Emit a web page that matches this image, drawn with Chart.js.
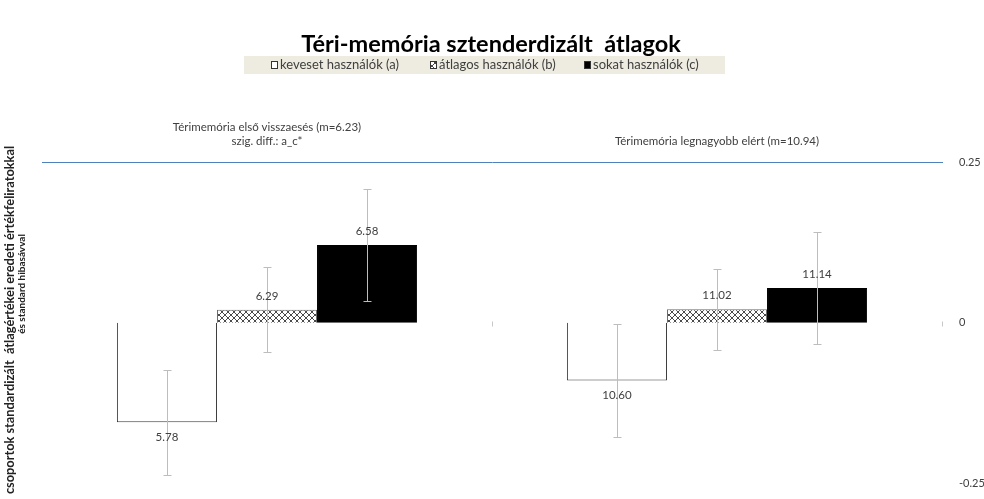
<!DOCTYPE html>
<html>
<head>
<meta charset="utf-8">
<script src="https://cdn.jsdelivr.net/npm/chart.js@4/dist/chart.umd.min.js"></script>
<style>
  html, body { margin: 0; padding: 0; background: #fff; }
  #wrap { width: 984px; height: 499px; }
</style>
</head>
<body>
<div id="wrap"><canvas id="memChart"></canvas></div>
<script>
const categories = [
    ['Térimemória első visszaesés (m=6.23)', 'szig. diff.: a_c*'],
    'Térimemória legnagyobb elért (m=10.94)'
];
const seriesNames = ['keveset használók (a)', 'átlagos használók (b)', 'sokat használók (c)'];

// standardized group means
const valuesA = [-0.155, -0.090];
const valuesB = [0.020, 0.021];
const valuesC = [0.121, 0.054];

// standard errors
const errorsA = [0.082, 0.088];
const errorsB = [0.066, 0.063];
const errorsC = [0.087, 0.087];

// original (raw) means written on the bars
const rawA = ['5.78', '10.60'];
const rawB = ['6.29', '11.02'];
const rawC = ['6.58', '11.14'];

const yTicks = [-0.25, 0, 0.25];

const FONT = 'Lato, "Open Sans", sans-serif';
const TEXT_COL = '#404040';

function crossHatch() {
    const c = document.createElement('canvas');
    c.width = 6;
    c.height = 6;
    const g = c.getContext('2d');
    g.fillStyle = '#fff';
    g.fillRect(0, 0, 6, 6);
    g.strokeStyle = '#4a4a4a';
    g.lineWidth = 1;
    g.beginPath();
    g.moveTo(0, 0); g.lineTo(6, 6);
    g.moveTo(6, 0); g.lineTo(0, 6);
    g.stroke();
    return g.createPattern(c, 'repeat');
}
const hatch = crossHatch();

// error bars + raw mean labels
const errorBars = {
    id: 'errorBars',
    afterDatasetsDraw(chart) {
        const ctx = chart.ctx;
        const x = chart.scales.x;
        const y = chart.scales.y;
        ctx.save();

        // small tick marks on the zero line between categories
        const y0 = Math.round(y.getPixelForValue(0)) + 0.5;
        ctx.strokeStyle = '#c8c8c8';
        ctx.lineWidth = 1;
        ctx.beginPath();
        for (let i = 1; i <= categories.length; i++) {
            const bx = Math.round(x.getPixelForValue(i - 0.5)) + 0.5;
            ctx.moveTo(bx, y0 - 2);
            ctx.lineTo(bx, y0 + 3);
        }
        ctx.stroke();

        chart.data.datasets.forEach((ds, di) => {
            const meta = chart.getDatasetMeta(di);
            meta.data.forEach((bar, i) => {
                const v = ds.data[i];
                const e = ds.errors[i];
                const top = Math.round(y.getPixelForValue(v + e)) + 0.5;
                const bot = Math.round(y.getPixelForValue(v - e)) + 0.5;
                const bx = Math.round(bar.x) + 0.5;
                ctx.strokeStyle = '#bdbdbd';
                ctx.beginPath();
                ctx.moveTo(bx, top); ctx.lineTo(bx, bot);
                ctx.moveTo(bx - 4, top); ctx.lineTo(bx + 4, top);
                ctx.moveTo(bx - 4, bot); ctx.lineTo(bx + 4, bot);
                ctx.stroke();
            });
        });
        ctx.font = '11.5px ' + FONT;
        ctx.fillStyle = TEXT_COL;
        ctx.textAlign = 'center';
        ctx.textBaseline = 'middle';
        chart.data.datasets.forEach((ds, di) => {
            const meta = chart.getDatasetMeta(di);
            meta.data.forEach((bar, i) => {
                const v = ds.data[i];
                const ly = v < 0 ? bar.y + 15 : bar.y - 14;
                ctx.fillText(ds.rawLabels[i], bar.x, ly);
            });
        });
        ctx.restore();
    }
};

// title, legend box and the left axis title
const decorations = {
    id: 'decorations',
    afterDraw(chart) {
        const ctx = chart.ctx;
        ctx.save();
        ctx.textBaseline = 'middle';

        ctx.fillStyle = '#000';
        ctx.font = 'bold 23.5px ' + FONT;
        ctx.textAlign = 'center';
        ctx.fillText('Téri-memória sztenderdizált  átlagok', 491, 44);

        // legend
        ctx.fillStyle = '#eeece1';
        ctx.fillRect(244, 56, 481, 18);
        ctx.font = '13px ' + FONT;
        ctx.textAlign = 'left';
        const ly = 65;
        const items = [
            { x: 271, fill: '#fff', text: seriesNames[0] },
            { x: 430, fill: hatch, text: seriesNames[1] },
            { x: 584, fill: '#000', text: seriesNames[2] }
        ];
        items.forEach(it => {
            ctx.fillStyle = it.fill;
            ctx.fillRect(it.x, ly - 4, 7, 8);
            ctx.strokeStyle = '#333';
            ctx.lineWidth = 1;
            ctx.strokeRect(it.x + 0.5, ly - 3.5, 6, 7);
            ctx.fillStyle = TEXT_COL;
            ctx.fillText(it.text, it.x + 9, ly);
        });

        // left title, rotated
        ctx.fillStyle = '#222';
        ctx.textAlign = 'center';
        ctx.save();
        ctx.font = 'bold 12.8px ' + FONT;
        ctx.translate(10, 320);
        ctx.rotate(-Math.PI / 2);
        ctx.fillText('csoportok standardizált  átlagértékei eredeti értékfeliratokkal', 0, 0);
        ctx.restore();
        ctx.save();
        ctx.font = 'bold 10px ' + FONT;
        ctx.translate(22, 284);
        ctx.rotate(-Math.PI / 2);
        ctx.fillText('és standard hibasávval', 0, 0);
        ctx.restore();
        ctx.restore();
    }
};

new Chart(document.getElementById('memChart'), {
    type: 'bar',
    data: {
        labels: categories,
        datasets: [
            {
                label: seriesNames[0],
                data: valuesA,
                errors: errorsA,
                rawLabels: rawA,
                backgroundColor: '#fff',
                borderColor: '#3a3a3a',
                borderWidth: 1
            },
            {
                label: seriesNames[1],
                data: valuesB,
                errors: errorsB,
                rawLabels: rawB,
                backgroundColor: hatch,
                borderColor: '#6a6a6a',
                borderWidth: 1
            },
            {
                label: seriesNames[2],
                data: valuesC,
                errors: errorsC,
                rawLabels: rawC,
                backgroundColor: '#000',
                borderColor: '#000',
                borderWidth: 1
            }
        ]
    },
    options: {
        responsive: true,
        maintainAspectRatio: false,
        animation: false,
        layout: { padding: { top: 110, left: 42, right: 0, bottom: 14 } },
        datasets: {
            bar: { barPercentage: 1, categoryPercentage: 0.667 }
        },
        plugins: {
            legend: { display: false },
            title: { display: false },
            tooltip: { enabled: false }
        },
        scales: {
            x: {
                position: 'top',
                grid: { display: false, drawTicks: false },
                border: { display: true, color: '#4f81bd', width: 1 },
                ticks: {
                    color: TEXT_COL,
                    font: { family: FONT, size: 11.5 },
                    padding: 14,
                    maxRotation: 0
                },
                afterFit(scale) { scale.height = 52; }
            },
            y: {
                position: 'right',
                min: -0.25,
                max: 0.25,
                grid: { display: false },
                border: { display: false },
                afterBuildTicks(scale) {
                    scale.ticks = yTicks.map(v => ({ value: v }));
                },
                ticks: {
                    color: TEXT_COL,
                    font: { family: FONT, size: 11 },
                    padding: 9,
                    callback: v => String(v)
                },
                afterFit(scale) { scale.width = 42; }
            }
        }
    },
    plugins: [errorBars, decorations]
});
</script>
</body>
</html>
